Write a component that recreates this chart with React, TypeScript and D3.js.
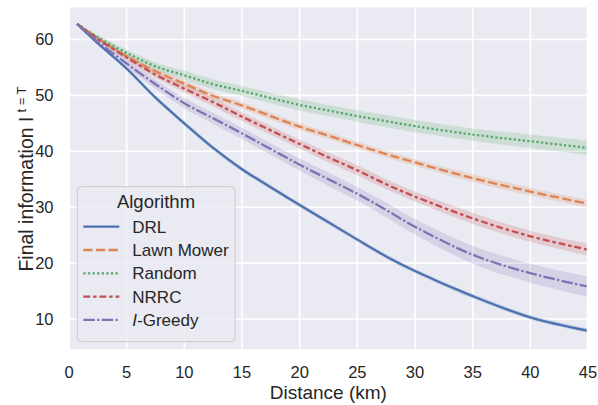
import React from 'react';
import * as d3 from 'd3';

// distance (km) at which each value was read
const distances = [0.7, 2.5, 5, 7.5, 10, 12.5, 15, 20, 22.5, 25, 27.5, 30, 35, 40, 45];

const drl = [62.8, 59.3, 54.8, 49.6, 45.0, 40.6, 36.8, 30.4, 27.3, 24.2, 21.2, 18.6, 14.1, 10.3, 7.9];
const lawnMower = [62.8, 60.2, 57.0, 54.3, 52.1, 49.9, 48.2, 44.4, 42.8, 41.1, 39.5, 38.0, 35.2, 32.8, 30.6];
const random = [62.8, 60.4, 57.6, 55.2, 53.6, 52.0, 50.8, 48.3, 47.3, 46.3, 45.4, 44.5, 43.0, 41.8, 40.6];
const nrrc = [62.8, 60.1, 56.8, 53.7, 51.2, 48.8, 46.2, 41.3, 38.9, 36.6, 34.1, 31.9, 28.0, 24.8, 22.4];
const greedy = [62.8, 59.6, 55.7, 52.0, 48.6, 45.9, 43.2, 37.6, 35.0, 32.4, 29.5, 26.5, 21.5, 18.2, 15.8];

// half width of the shaded confidence band
const drlCi = [0, 0.2, 0.3, 0.4, 0.4, 0.4, 0.4, 0.4, 0.4, 0.4, 0.4, 0.4, 0.4, 0.4, 0.4];
const lawnMowerCi = [0, 0.3, 0.5, 0.5, 0.6, 0.6, 0.6, 0.6, 0.6, 0.6, 0.6, 0.6, 0.7, 0.7, 0.7];
const randomCi = [0, 0.4, 0.6, 0.7, 0.8, 0.9, 0.9, 1.0, 1.0, 1.0, 1.1, 1.1, 1.1, 1.2, 1.3];
const nrrcCi = [0, 0.3, 0.5, 0.6, 0.7, 0.8, 0.8, 0.8, 0.9, 0.9, 0.9, 0.9, 1.0, 1.0, 1.1];
const greedyCi = [0, 0.4, 0.7, 0.8, 0.9, 1.0, 1.0, 1.1, 1.2, 1.2, 1.3, 1.4, 1.6, 1.7, 1.8];

const xTicks = [0, 5, 10, 15, 20, 25, 30, 35, 40, 45];
const yTicks = [10, 20, 30, 40, 50, 60];

const lw = 2.3;
const series = [
  { name: 'DRL', values: drl, ci: drlCi, color: '#4c72b0', dash: 'none' },
  { name: 'Lawn Mower', values: lawnMower, ci: lawnMowerCi, color: '#dd8452', dash: [4, 1.5] },
  { name: 'Random', values: random, ci: randomCi, color: '#55a868', dash: [1, 1] },
  { name: 'NRRC', values: nrrc, ci: nrrcCi, color: '#c44e52', dash: [3, 1.25, 1.5, 1.25] },
  { name: 'I-Greedy', values: greedy, ci: greedyCi, color: '#8172b3', dash: [5, 1, 1, 1] },
];

const dashArray = (d: any) => (d === 'none' ? 'none' : d.map((v: number) => v * lw).join(' '));

const W = 598;
const H = 405;
const plot = { left: 70, right: 586.7, top: 7.3, bottom: 349.3 };
const font = '"Liberation Sans", Arial, sans-serif';

export default function App() {
  const x = d3.scaleLinear().domain([0, 45]).range([69, 588]);
  const y = d3.scaleLinear().domain([10, 60]).range([319, 39.5]);

  const line = d3
    .line<[number, number]>()
    .x(d => x(d[0]))
    .y(d => y(d[1]))
    .curve(d3.curveCatmullRom.alpha(0.5));

  const area = d3
    .area<[number, number, number]>()
    .x(d => x(d[0]))
    .y0(d => y(d[1] - d[2]))
    .y1(d => y(d[1] + d[2]))
    .curve(d3.curveCatmullRom.alpha(0.5));

  const legend = { x: 77.3, y: 186.7, w: 157.7, h: 155, rowY: 226.7, rowStep: 23.3 };

  return (
    <div style={{ position: 'absolute', left: 0, top: 0 }}>
      <svg width={W} height={H} style={{ display: 'block', background: '#fff' }} fontFamily={font}>
        <defs>
          <clipPath id="plotClip">
            <rect x={plot.left} y={plot.top} width={plot.right - plot.left} height={plot.bottom - plot.top} />
          </clipPath>
        </defs>
        <rect x={plot.left} y={plot.top} width={plot.right - plot.left} height={plot.bottom - plot.top} fill="#eaeaf2" />

        {/* grid */}
        {xTicks.map(t => (
          <line key={'gx' + t} x1={x(t)} x2={x(t)} y1={plot.top} y2={plot.bottom} stroke="#fff" strokeWidth={1.6} clipPath="url(#plotClip)" />
        ))}
        {yTicks.map(t => (
          <line key={'gy' + t} x1={plot.left} x2={plot.right} y1={y(t)} y2={y(t)} stroke="#fff" strokeWidth={1.6} />
        ))}

        {/* bands and lines */}
        <g clipPath="url(#plotClip)">
          {series.map(s => (
            <path
              key={'band' + s.name}
              d={area(distances.map((d, i) => [d, s.values[i], s.ci[i]] as [number, number, number])) || ''}
              fill={s.color}
              fillOpacity={0.2}
              stroke="none"
            />
          ))}
          {series.map(s => (
            <path
              key={'line' + s.name}
              d={line(distances.map((d, i) => [d, s.values[i]] as [number, number])) || ''}
              fill="none"
              stroke={s.color}
              strokeWidth={lw}
              strokeDasharray={dashArray(s.dash)}
            />
          ))}
        </g>

        {/* tick labels */}
        {xTicks.map(t => (
          <text key={'tx' + t} x={x(t)} y={377.7} textAnchor="middle" fontSize={16.5} fill="#262626">
            {t}
          </text>
        ))}
        {yTicks.map(t => (
          <text key={'ty' + t} x={53.5} y={y(t)} dy="0.36em" textAnchor="end" fontSize={16.5} fill="#262626">
            {t}
          </text>
        ))}

        {/* axis labels */}
        <text x={(plot.left + plot.right) / 2} y={399} textAnchor="middle" fontSize={19} fill="#262626">
          Distance (km)
        </text>
        <text transform={`translate(33.3, 179) rotate(-90)`} textAnchor="middle" fontSize={19.5} fill="#262626">
          Final information I
          <tspan dx={4} dy={-7.5} fontSize={13}>
            t = T
          </tspan>
        </text>

        {/* legend */}
        <rect
          x={legend.x}
          y={legend.y}
          width={legend.w}
          height={legend.h}
          rx={4}
          fill="#eaeaf2"
          fillOpacity={0.8}
          stroke="#cccccc"
          strokeWidth={1}
        />
        <text x={156} y={208.4} textAnchor="middle" fontSize={18.5} fill="#262626">
          Algorithm
        </text>
        {series.map((s, i) => {
          const cy = legend.rowY + i * legend.rowStep;
          return (
            <g key={'leg' + s.name}>
              <line x1={83.3} x2={119.3} y1={cy} y2={cy} stroke={s.color} strokeWidth={lw} strokeDasharray={dashArray(s.dash)} />
              <text x={132.3} y={cy} dy="0.36em" fontSize={17} fill="#262626">
                {s.name === 'I-Greedy' ? (
                  <>
                    <tspan fontStyle="italic">I</tspan>-Greedy
                  </>
                ) : (
                  s.name
                )}
              </text>
            </g>
          );
        })}
      </svg>
    </div>
  );
}
